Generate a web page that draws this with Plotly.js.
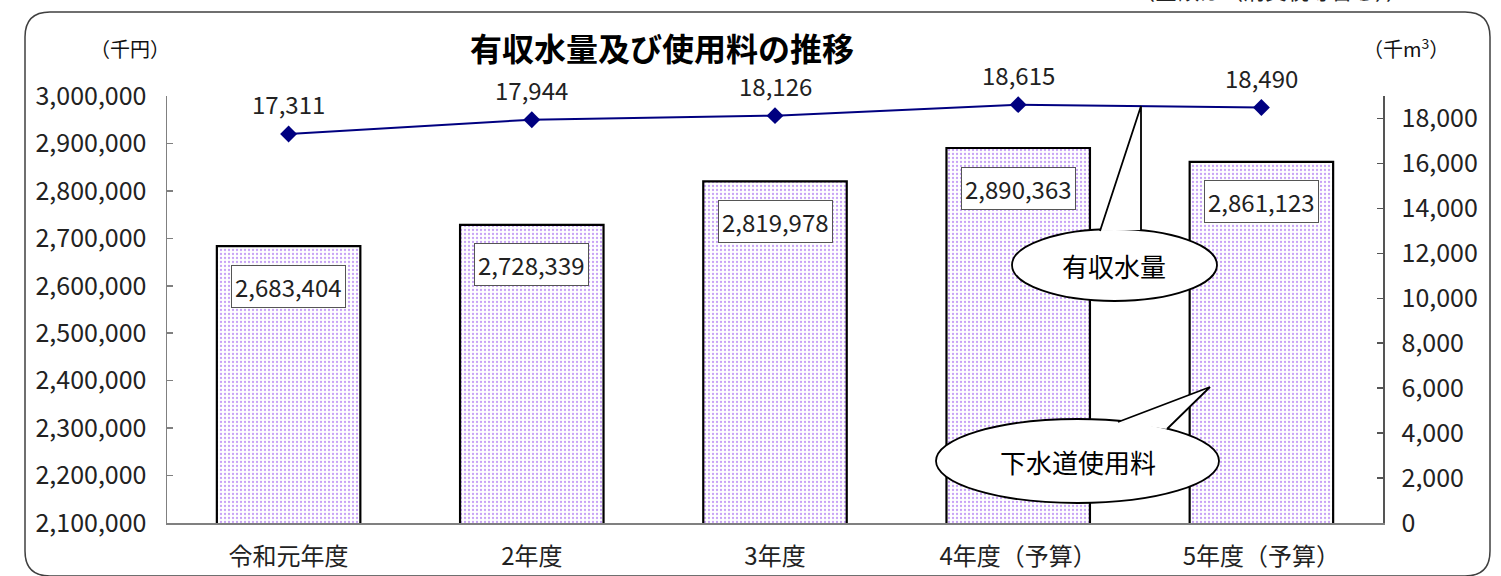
<!DOCTYPE html>
<html>
<head>
<meta charset="utf-8">
<script src="https://cdn.plot.ly/plotly-3.0.1.min.js"></script>
<style>html,body{margin:0;padding:0;background:#fff;}#chart{width:1501px;height:576px;}</style>
</head>
<body>
<div id="chart"></div>
<script>
const categories = ["令和元年度", "2年度", "3年度", "4年度（予算）", "5年度（予算）"];
const feeValues = [2683404, 2728339, 2819978, 2890363, 2861123];      // 下水道使用料 (千円)
const volumeValues = [17311, 17944, 18126, 18615, 18490];            // 有収水量 (千m3)
const leftTicks = [2100000, 2200000, 2300000, 2400000, 2500000, 2600000, 2700000, 2800000, 2900000, 3000000];
const rightTicks = [0, 2000, 4000, 6000, 8000, 10000, 12000, 14000, 16000, 18000];

const W = 1501, H = 576;
const L = 167, R = 1383, T = 96, B = 523;
const px = x => (x - L) / (R - L);
const py = y => (B - y) / (B - T);
const FONT = '"Noto Sans CJK JP", "Noto Sans", sans-serif';
const fmt = v => v.toLocaleString('en-US');

const traces = [
  {
    type: 'bar', x: categories, y: feeValues, base: 0, yaxis: 'y', width: 0.59,
    marker: {
      color: '#ffffff',
      line: {color: '#000000', width: 2.2},
      pattern: {shape: '.', fgcolor: '#c7a2f6', bgcolor: '#ffffff', size: 4, solidity: 0.25}
    },
    hoverinfo: 'skip', showlegend: false
  },
  {
    type: 'scatter', mode: 'lines+markers', x: categories, y: volumeValues, yaxis: 'y2',
    line: {color: '#000080', width: 2},
    marker: {symbol: 'diamond', size: 13, color: '#000080'},
    hoverinfo: 'skip', showlegend: false
  }
];

const ann = (o) => Object.assign({showarrow: false, xanchor: 'center', yanchor: 'middle'}, o);
const annotations = [];
categories.forEach((c, i) => {
  annotations.push(ann({
    x: c, y: feeValues[i], xref: 'x', yref: 'y', yshift: -40,
    text: fmt(feeValues[i]),
    font: {family: FONT, size: 24, color: '#222'},
    bgcolor: '#ffffff', bordercolor: '#555', borderwidth: 1, borderpad: 3
  }));
  annotations.push(ann({
    x: c, y: volumeValues[i], xref: 'x', yref: 'y2', yshift: 30,
    text: fmt(volumeValues[i]),
    font: {family: FONT, size: 24, color: '#222'}
  }));
});
annotations.push(
  ann({xref: 'paper', yref: 'paper', x: px(130), y: py(48), text: '（千円）',
   font: {family: FONT, size: 20, color: '#111'}}),
  ann({xref: 'paper', yref: 'paper', x: px(1406), y: py(48), text: '（千m<sup>3</sup>）',
   font: {family: FONT, size: 20, color: '#111'}}),
  ann({xref: 'paper', yref: 'paper', x: px(662), y: py(47), text: '<b>有収水量及び使用料の推移</b>',
   font: {family: FONT, size: 32, color: '#000'}}),
  ann({xref: 'paper', yref: 'paper', x: px(1270), y: py(-11), text: '（金額は（消費税等含む））',
   font: {family: FONT, size: 22, color: '#222'}}),
  ann({xref: 'paper', yref: 'paper', x: px(1114), y: py(265), text: '有収水量',
   font: {family: FONT, size: 26, color: '#000'}}),
  ann({xref: 'paper', yref: 'paper', x: px(1078), y: py(461), text: '下水道使用料',
   font: {family: FONT, size: 26, color: '#000'}})
);

const r = 25, bx0 = 25, bx1 = 1490, by0 = 12, by1 = 576;
const borderPath =
  `M ${px(bx0 + r)} ${py(by0)} L ${px(bx1 - r)} ${py(by0)} Q ${px(bx1)} ${py(by0)} ${px(bx1)} ${py(by0 + r)} ` +
  `L ${px(bx1)} ${py(by1 - r)} Q ${px(bx1)} ${py(by1)} ${px(bx1 - r)} ${py(by1)} ` +
  `L ${px(bx0 + r)} ${py(by1)} Q ${px(bx0)} ${py(by1)} ${px(bx0)} ${py(by1 - r)} ` +
  `L ${px(bx0)} ${py(by0 + r)} Q ${px(bx0)} ${py(by0)} ${px(bx0 + r)} ${py(by0)} Z`;

const shapes = [
  {type: 'path', xref: 'paper', yref: 'paper', path: borderPath, line: {color: '#404040', width: 1.5}, layer: 'below'},
  {type: 'circle', xref: 'paper', yref: 'paper', x0: px(1012), x1: px(1217), y0: py(229), y1: py(301),
   fillcolor: 'rgb(255,255,255)', opacity: 1, line: {color: '#000', width: 1.8}, layer: 'above'},
  {type: 'path', xref: 'paper', yref: 'paper',
   path: `M ${px(1100)} ${py(231)} L ${px(1141)} ${py(106)} L ${px(1141)} ${py(230)}`,
   fillcolor: 'rgb(255,255,255)', opacity: 1, line: {color: '#000', width: 1.8}, layer: 'above'},
  {type: 'circle', xref: 'paper', yref: 'paper', x0: px(936), x1: px(1219), y0: py(419), y1: py(503),
   fillcolor: 'rgb(255,255,255)', opacity: 1, line: {color: '#000', width: 1.8}, layer: 'above'},
  {type: 'path', xref: 'paper', yref: 'paper',
   path: `M ${px(1118)} ${py(422)} L ${px(1210)} ${py(387)} L ${px(1167)} ${py(429)}`,
   fillcolor: 'rgb(255,255,255)', opacity: 1, line: {color: '#000', width: 1.8}, layer: 'above'}
];

const layout = {
  width: W, height: H,
  margin: {l: L, r: W - R, t: T, b: H - B, pad: 0},
  paper_bgcolor: '#ffffff', plot_bgcolor: 'rgba(0,0,0,0)',
  font: {family: FONT, color: '#222'},
  showlegend: false,
  bargap: 0.41,
  xaxis: {
    type: 'category', showgrid: false, zeroline: false,
    showline: true, linecolor: '#808080', linewidth: 1.5,
    ticks: '', tickfont: {family: FONT, size: 24, color: '#222'}, ticklabelstandoff: 12
  },
  yaxis: {
    range: [2100000, 3000000], tickvals: leftTicks, ticktext: leftTicks.map(fmt),
    showgrid: false, zeroline: false, showline: true, linecolor: '#808080', linewidth: 1.5,
    ticks: 'inside', ticklen: 6, tickcolor: '#808080', tickwidth: 1.5,
    tickfont: {family: FONT, size: 25, color: '#222'}, ticklabelstandoff: 14
  },
  yaxis2: {
    overlaying: 'y', side: 'right', range: [0, 19000], tickvals: rightTicks, ticktext: rightTicks.map(fmt),
    showgrid: false, zeroline: false, showline: true, linecolor: '#555', linewidth: 1.5,
    ticks: 'inside', ticklen: 6, tickcolor: '#555', tickwidth: 1.5,
    tickfont: {family: FONT, size: 25, color: '#222'}, ticklabelstandoff: 12
  },
  annotations: annotations,
  shapes: shapes
};

Plotly.newPlot('chart', traces, layout, {staticPlot: true, displayModeBar: false});
</script>
</body>
</html>
